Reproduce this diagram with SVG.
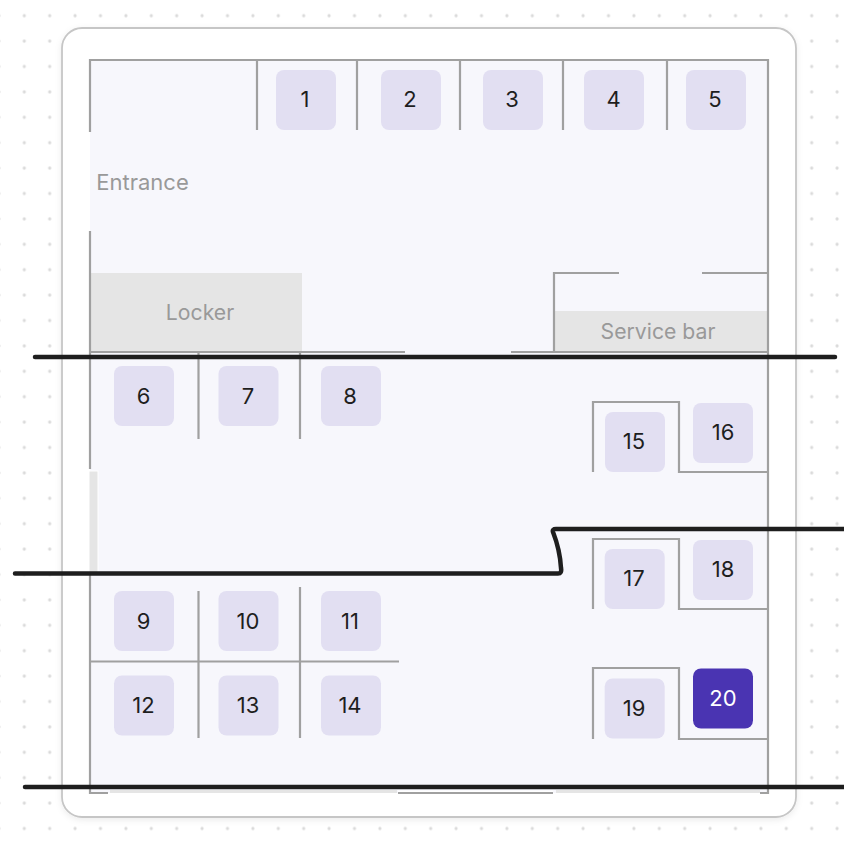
<svg xmlns="http://www.w3.org/2000/svg" width="844" height="850" viewBox="0 0 844 850">
<style>
text{font-family:Inter,"Liberation Sans",sans-serif;text-anchor:middle}
.seat rect{fill:#e2dff2}
.seat text{font-size:22px;fill:#1e1e1e}
.wall{fill:none;stroke:#a0a0a0;stroke-width:2.2}
.zone{fill:#e5e5e5}
.lbl{font-size:21.2px;fill:#999}
.mark{fill:none;stroke:#1e1e1e;stroke-width:4.500;stroke-linecap:round;stroke-linejoin:round}
</style>
<defs>
<pattern id="dots" width="25.4" height="25.4" patternUnits="userSpaceOnUse" x="-1.1" y="15.7"><circle cx="0" cy="0" r="1.6" fill="#dadada"/><circle cx="25.4" cy="0" r="1.6" fill="#dadada"/><circle cx="0" cy="25.4" r="1.6" fill="#dadada"/><circle cx="25.4" cy="25.4" r="1.6" fill="#dadada"/></pattern>
<filter id="sh" x="-5%" y="-5%" width="110%" height="110%"><feDropShadow dx="0" dy="2" stdDeviation="3" flood-color="#000" flood-opacity=".08"/></filter>
</defs>
<rect width="844" height="850" fill="#fff"/>
<rect width="844" height="850" fill="url(#dots)"/>
<rect x="62" y="28" width="734" height="789" rx="20" fill="#fff" stroke="#c6c6c6" stroke-width="1.8" filter="url(#sh)"/>
<rect x="90" y="60" width="678" height="733" fill="#f7f7fc"/>
<g id="zones">
<rect id="locker" class="zone" x="90" y="273" width="212" height="79"/>
<text class="lbl" x="200" y="319.500">Locker</text>
<rect id="service-bar" class="zone" x="554" y="311" width="214" height="41"/>
<text class="lbl" x="658" y="339">Service bar</text>
<text class="lbl" x="142.500" y="189.500" style="font-size:22px">Entrance</text>
<rect x="89" y="471" width="9" height="102" class="zone" stroke="#fff" stroke-width="1"/>
<rect x="110" y="790" width="287" height="3" class="zone"/>
<rect x="556" y="790" width="204" height="3" class="zone"/>
</g>
<g id="walls">
<path class="wall" d="M90 132V60H768V793H760M90 231V469M90 573V793H108"/>
<path class="wall" d="M257 60V130M357 60V130M460 60V130M563 60V130M667 60V130"/>
<path class="wall" d="M90 352H405M511 352H768M554 352V273H619M702 273H768"/>
<path class="wall" d="M198.500 352V439M300 352V439M198.500 591V738M300 587V738M90 661.500H399"/>
<path class="wall" d="M593 472V402H679V472H768M593 609V539H679V609H768M593 739V668H679V739H768"/>
<path d="M398 793H553" stroke="#fff" stroke-width="5"/>
<path class="wall" d="M398 793H553"/>
</g>
<g id="seat-1" class="seat"><rect x="276" y="70" width="60" height="60" rx="8"/><text x="305" y="107">1</text></g>
<g id="seat-2" class="seat"><rect x="381" y="70" width="60" height="60" rx="8"/><text x="410" y="107">2</text></g>
<g id="seat-3" class="seat"><rect x="483" y="70" width="60" height="60" rx="8"/><text x="512" y="107">3</text></g>
<g id="seat-4" class="seat"><rect x="584" y="70" width="60" height="60" rx="8"/><text x="613.500" y="107">4</text></g>
<g id="seat-5" class="seat"><rect x="686" y="70" width="60" height="60" rx="8"/><text x="715" y="107">5</text></g>
<g id="seat-6" class="seat"><rect x="114" y="366" width="60" height="60" rx="8"/><text x="143.500" y="404">6</text></g>
<g id="seat-7" class="seat"><rect x="218.500" y="366" width="60" height="60" rx="8"/><text x="248" y="404">7</text></g>
<g id="seat-8" class="seat"><rect x="321" y="366" width="60" height="60" rx="8"/><text x="350" y="404">8</text></g>
<g id="seat-9" class="seat"><rect x="114" y="591" width="60" height="60" rx="8"/><text x="143.500" y="629">9</text></g>
<g id="seat-10" class="seat"><rect x="218.500" y="591" width="60" height="60" rx="8"/><text x="248" y="629">10</text></g>
<g id="seat-11" class="seat"><rect x="321" y="591" width="60" height="60" rx="8"/><text x="350" y="629">11</text></g>
<g id="seat-12" class="seat"><rect x="114" y="675.500" width="60" height="60" rx="8"/><text x="143.500" y="713">12</text></g>
<g id="seat-13" class="seat"><rect x="218.500" y="675.500" width="60" height="60" rx="8"/><text x="248" y="713">13</text></g>
<g id="seat-14" class="seat"><rect x="321" y="675.500" width="60" height="60" rx="8"/><text x="350" y="713">14</text></g>
<g id="seat-15" class="seat"><rect x="605" y="412" width="60" height="60" rx="8"/><text x="634" y="449">15</text></g>
<g id="seat-16" class="seat"><rect x="693" y="403" width="60" height="60" rx="8"/><text x="723" y="440">16</text></g>
<g id="seat-17" class="seat"><rect x="604.700" y="549" width="60" height="60" rx="8"/><text x="634" y="586">17</text></g>
<g id="seat-18" class="seat"><rect x="693" y="540" width="60" height="60" rx="8"/><text x="723" y="577">18</text></g>
<g id="seat-19" class="seat"><rect x="604.700" y="678.500" width="60" height="60" rx="8"/><text x="634" y="716">19</text></g>
<g id="seat-20" class="seat"><rect x="693" y="668.500" width="60" height="60" rx="8" style="fill:#4a34b2"/><text x="723" y="706" style="fill:#fff">20</text></g>
<g id="connectors">
<path class="mark" d="M35 357H835"/>
<path class="mark" d="M15 573.500H558Q562 573.500 561 568Q560 550 553 532Q552 529 556 529H846"/>
<path class="mark" d="M25 787H846"/>
</g>
</svg>
